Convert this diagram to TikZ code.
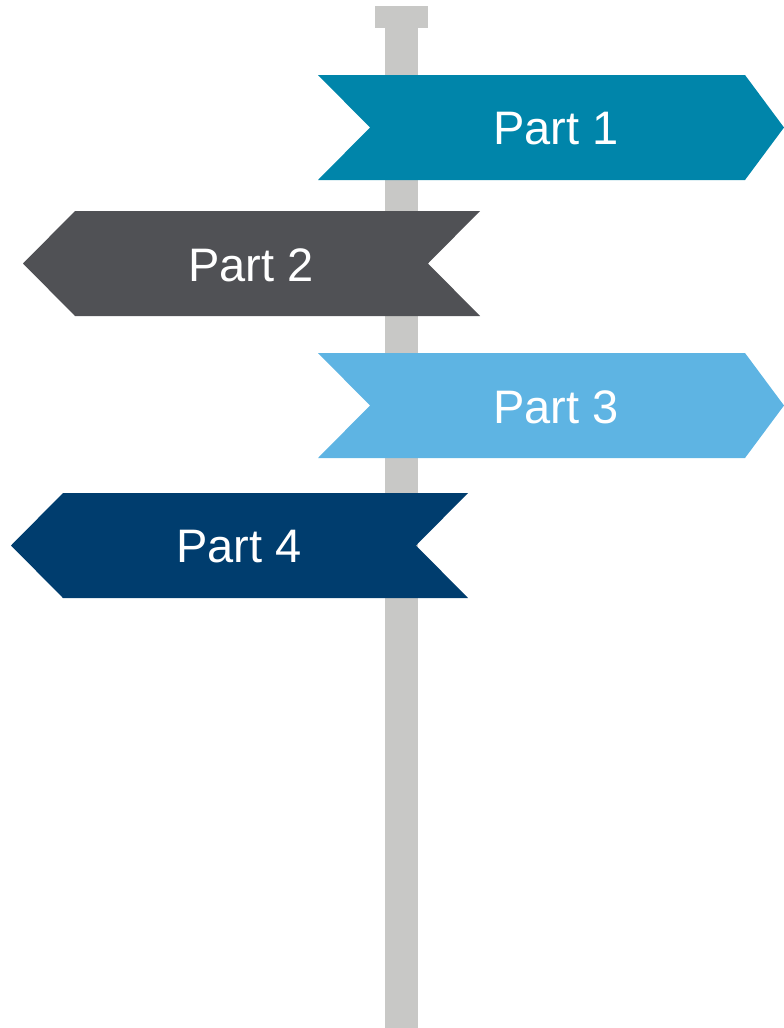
\documentclass[tikz,border=0pt]{standalone}
\usepackage{fontspec}
\setmainfont{Liberation Sans}
\definecolor{pole}{HTML}{C8C8C6}
\definecolor{cA}{HTML}{0085AA}
\definecolor{cB}{HTML}{505155}
\definecolor{cC}{HTML}{5EB4E3}
\definecolor{cD}{HTML}{003D6E}
\tikzset{
  lbl/.style={text=white, font=\fontsize{47}{47}\selectfont, inner sep=0pt, anchor=center},
}
\begin{document}
\begin{tikzpicture}[x=1pt,y=-1pt]
\useasboundingbox (0,0) rectangle (784,1028);
% pole
\fill[pole] (375,6) rectangle (428,28);
\fill[pole] (385,28) rectangle (418,1028);
% Part 1 (right)
\fill[cA] (318,75) -- (745,75) -- (784,127.5) -- (745,180) -- (318,180) -- (370,127.5) -- cycle;
\node[lbl] (p1) at (556,129) {Part 1};
% Part 2 (left)
\fill[cB] (480,211) -- (75,211) -- (23,263.5) -- (75,316) -- (480,316) -- (428,263.5) -- cycle;
\node[lbl] (p2) at (251,265) {Part 2};
% Part 3 (right)
\fill[cC] (318,353) -- (745,353) -- (784,405.5) -- (745,458) -- (318,458) -- (370,405.5) -- cycle;
\node[lbl] (p3) at (556,407) {Part 3};
% Part 4 (left)
\fill[cD] (468,493) -- (63,493) -- (11,545.5) -- (63,598) -- (468,598) -- (416,545.5) -- cycle;
\node[lbl] (p4) at (239,547) {Part 4};
\end{tikzpicture}
\end{document}
